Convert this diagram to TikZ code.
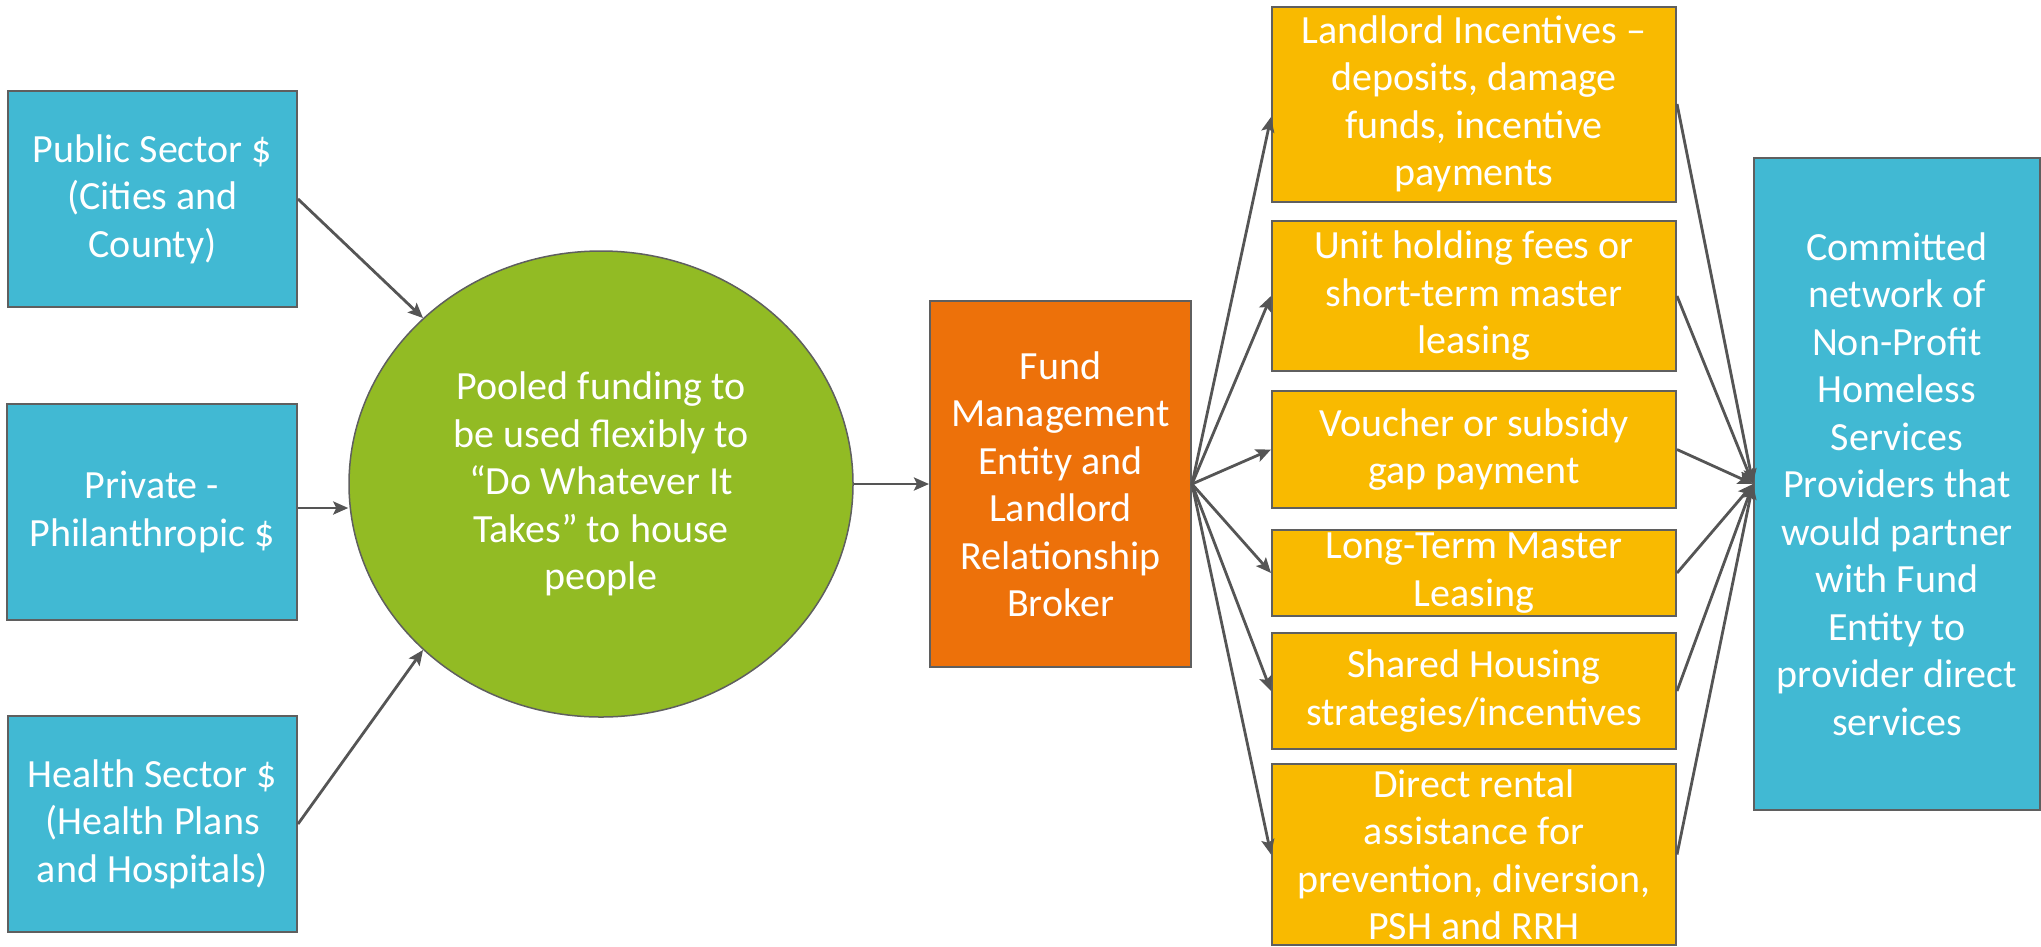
\documentclass[tikz,border=0pt]{standalone}
\usepackage{fontspec}
\setmainfont{Carlito}
\usetikzlibrary{shapes.geometric,arrows.meta}
\definecolor{cblue}{RGB}{65,185,211}
\definecolor{cgreen}{RGB}{146,187,36}
\definecolor{corange}{RGB}{237,113,10}
\definecolor{cyellow}{RGB}{249,186,0}
\definecolor{cborder}{RGB}{95,95,95}
\definecolor{cline}{RGB}{85,85,85}
\tikzset{
  txt/.style={text=white, align=center, inner sep=0pt, font=\fontsize{40}{47.5}\selectfont},
  bluebox/.style={txt, rectangle, draw=cborder, line width=2pt, fill=cblue},
  orangebox/.style={txt, rectangle, draw=cborder, line width=2pt, fill=corange},
  yellowbox/.style={txt, rectangle, draw=cborder, line width=2pt, fill=cyellow, minimum width=404pt},
  greenellipse/.style={txt, ellipse, draw=cborder, line width=1.5pt, fill=cgreen},
  conn/.style={draw=cline, line width=2.8pt, -{Stealth[length=15pt,width=13pt,inset=3pt]}}
}
\begin{document}
\begin{tikzpicture}[x=1pt,y=-1pt]
\useasboundingbox (0,0) rectangle (2041,946);
% left boxes
\node[bluebox, minimum width=289pt, minimum height=216pt] (pub) at (152.5,199) {Public Sector \$\\(Cities and\\County)};
\node[bluebox, minimum width=290pt, minimum height=216pt] (priv) at (152,512) {Private -\\Philanthropic \$};
\node[bluebox, minimum width=289pt, minimum height=216pt] (health) at (152.5,824) {Health Sector \$\\(Health Plans\\and Hospitals)};
% pool
\node[greenellipse, minimum width=504pt, minimum height=466pt] (pool) at (601,484) {Pooled funding to\\be used flexibly to\\“Do Whatever It\\Takes” to house\\people};
% fund
\node[orangebox, minimum width=261pt, minimum height=366pt] (fund) at (1060.5,484) {Fund\\Management\\Entity and\\Landlord\\Relationship\\Broker};
% yellow
\node[yellowbox, minimum height=195pt] (y1) at (1474,104) {Landlord Incentives –\\deposits, damage\\funds, incentive\\payments};
\node[yellowbox, minimum height=150pt] (y2) at (1474,296) {Unit holding fees or\\short-term master\\leasing};
\node[yellowbox, minimum height=117pt] (y3) at (1474,449.5) {Voucher or subsidy\\gap payment};
\node[yellowbox, minimum height=86pt] (y4) at (1474,573) {Long-Term Master\\Leasing};
\node[yellowbox, minimum height=116pt] (y5) at (1474,691) {Shared Housing\\strategies/incentives};
\node[yellowbox, minimum height=181pt] (y6) at (1474,854.5) {Direct rental\\assistance for\\prevention, diversion,\\PSH and RRH};
% network
\node[bluebox, minimum width=286pt, minimum height=652pt] (net) at (1897,484) {Committed\\network of\\Non-Profit\\Homeless\\Services\\Providers that\\would partner\\with Fund\\Entity to\\provider direct\\services};
% connectors
\draw[conn] (pub.east) -- (pool.137);
\draw[conn] ([yshift=4pt]priv.east) -- ([yshift=4pt]priv.east -| pool.west);
\draw[conn] (health.east) -- (pool.223);
\draw[conn] (pool.east) -- (fund.west);
\draw[conn] (fund.east) -- ([yshift=-13pt]y1.west);
\draw[conn] (fund.east) -- (y2.west);
\draw[conn] (fund.east) -- (y3.west);
\draw[conn] (fund.east) -- (y4.west);
\draw[conn] (fund.east) -- (y5.west);
\draw[conn] (fund.east) -- (y6.west);
\draw[conn] (y1.east) -- (net.west);
\draw[conn] (y2.east) -- (net.west);
\draw[conn] (y3.east) -- (net.west);
\draw[conn] (y4.east) -- (net.west);
\draw[conn] (y5.east) -- (net.west);
\draw[conn] (y6.east) -- (net.west);
\end{tikzpicture}
\end{document}
